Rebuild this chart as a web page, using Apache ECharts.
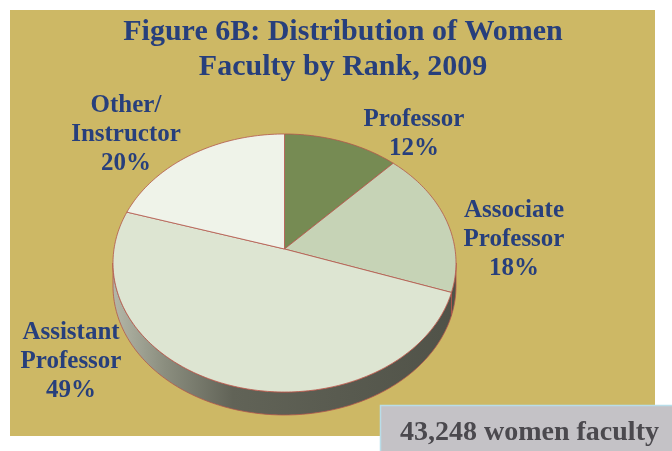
<!DOCTYPE html>
<html>
<head>
<meta charset="utf-8">
<script src="https://cdn.jsdelivr.net/npm/echarts@6/dist/echarts.min.js"></script>
<style>
  html, body { margin: 0; padding: 0; background: #fff; }
  #pieChart { width: 672px; height: 451px; }
</style>
</head>
<body>
<div id="pieChart"></div>
<script>
// data
var categories = ['Professor', 'Associate\nProfessor', 'Assistant\nProfessor', 'Other/\nInstructor'];
var shares = [12, 18, 49, 20];
var titleLines = ['Figure 6B: Distribution of Women', 'Faculty by Rank, 2009'];
var totalNote = '43,248 women faculty';

var pie3d = {

	// layout of the tilted pie
	cx: 284.5,
	cy: 263,
	rx: 171.5,
	ry: 129,
	depth: 23,
	apexLift: 14,
	colors: ['#768b53', '#c6d3b6', '#dde5d2', '#eff3e9'],
	edge: '#b2574d',
	labelFont: 'bold 25px "Liberation Serif", serif',
	labelColor: '#273f7c',
	// label block centre, relative to the pie centre
	labelOffsets: [[129.5, -129], [229.5, -23], [-213.5, 99], [-158.5, -128]],

	total: 0,
	cum: [],

	initData: function () {
		pie3d.total = 0;
		pie3d.cum = [0];
		for (var i = 0; i < shares.length; i++) {
			pie3d.total += shares[i];
			pie3d.cum.push(pie3d.total);
		}
	},

	// pie angle (clockwise from 12 o'clock) -> angle on the rim ellipse,
	// casting the ray from the raised apex so it looks foreshortened
	rimAngle: function (a) {
		var k = pie3d.ry / pie3d.rx;
		var dx = Math.sin(a) / pie3d.rx;
		var dy = -Math.cos(a) * k / pie3d.ry;
		var c = -pie3d.apexLift / pie3d.ry;
		var A = dx * dx + dy * dy;
		var B = 2 * dy * c;
		var C = c * c - 1;
		var t = (-B + Math.sqrt(B * B - 4 * A * C)) / (2 * A);
		var u = dx * t;
		var v = c + dy * t;
		var phi = Math.atan2(u, -v);
		while (phi < a - Math.PI) phi += Math.PI * 2;
		while (phi > a + Math.PI) phi -= Math.PI * 2;
		return phi;
	},

	pt: function (phi, dy) {
		return [pie3d.cx + pie3d.rx * Math.sin(phi), pie3d.cy - pie3d.ry * Math.cos(phi) + (dy || 0)];
	},

	arc: function (p0, p1, dy) {
		var pts = [];
		var n = Math.max(2, Math.ceil(Math.abs(p1 - p0) / 0.02));
		for (var k = 0; k <= n; k++) {
			pts.push(pie3d.pt(p0 + (p1 - p0) * k / n, dy));
		}
		return pts;
	},

	renderItem: function (params, api) {
		var i = params.dataIndex;
		var TWO_PI = Math.PI * 2;
		var p0 = pie3d.rimAngle(pie3d.cum[i] / pie3d.total * TWO_PI);
		var p1 = pie3d.rimAngle((pie3d.cum[i] + api.value(0)) / pie3d.total * TWO_PI);
		var children = [];

		// front wall (only the near half of the rim shows)
		var s0 = Math.max(p0, Math.PI / 2);
		var s1 = Math.min(p1, Math.PI * 1.5);
		if (s1 > s0) {
			var side = pie3d.arc(s0, s1, 0).concat(pie3d.arc(s1, s0, pie3d.depth));
			children.push({
				type: 'polygon',
				z2: 1,
				shape: { points: side },
				style: {
					fill: {
						type: 'linear', global: true,
						x: pie3d.cx - pie3d.rx, y: 0, x2: pie3d.cx + pie3d.rx, y2: 0,
						colorStops: [
							{ offset: 0, color: '#b4b7a8' },
							{ offset: 0.15, color: '#8b8e7f' },
							{ offset: 0.35, color: '#616357' },
							{ offset: 1, color: '#505248' }
						]
					},
					stroke: pie3d.edge,
					lineWidth: 0.8
				}
			});
		}

		// top face
		var top = [[pie3d.cx, pie3d.cy - pie3d.apexLift]].concat(pie3d.arc(p0, p1, 0));
		children.push({
			type: 'polygon',
			z2: 10,
			shape: { points: top },
			style: { fill: pie3d.colors[i], stroke: pie3d.edge, lineWidth: 0.8 }
		});

		// label
		var off = pie3d.labelOffsets[i];
		children.push({
			type: 'text',
			z2: 20,
			style: {
				text: categories[i] + '\n' + shares[i] + '%',
				x: pie3d.cx + off[0],
				y: pie3d.cy + off[1],
				font: pie3d.labelFont,
				fill: pie3d.labelColor,
				textAlign: 'center',
				textVerticalAlign: 'middle',
				lineHeight: 29,
				textLineHeight: 29
			}
		});

		return { type: 'group', children: children };
	},

	initChart: function () {
		var myChart = echarts.init(document.getElementById('pieChart'));
		pie3d.initData();

		var option = {
			animation: false,
			graphic: [
				{
					type: 'rect', z: -10,
					shape: { x: 10, y: 10, width: 645, height: 426 },
					style: { fill: '#cdb865' }
				},
				{
					type: 'text', z: 5,
					style: {
						text: titleLines.join('\n'),
						x: 343, y: 50,
						font: 'bold 30px "Liberation Serif", serif',
						fill: '#273f7c',
						textAlign: 'center',
						textVerticalAlign: 'middle',
						lineHeight: 35,
						textLineHeight: 35
					}
				},
				{
					type: 'rect', z: 30,
					shape: { x: 380.5, y: 405.5, width: 300, height: 60 },
					style: { fill: '#c4c2c6', stroke: '#b9dde9', lineWidth: 1.5 }
				},
				{
					type: 'text', z: 31,
					style: {
						text: totalNote,
						x: 400, y: 433,
						font: 'bold 28px "Liberation Serif", serif',
						fill: '#4b494e',
						textAlign: 'left',
						textVerticalAlign: 'middle'
					}
				}
			],
			series: [{
				type: 'custom',
				coordinateSystem: 'none',
				renderItem: pie3d.renderItem,
				data: shares
			}]
		};

		myChart.setOption(option);
	}
};

pie3d.initChart();
</script>
</body>
</html>
